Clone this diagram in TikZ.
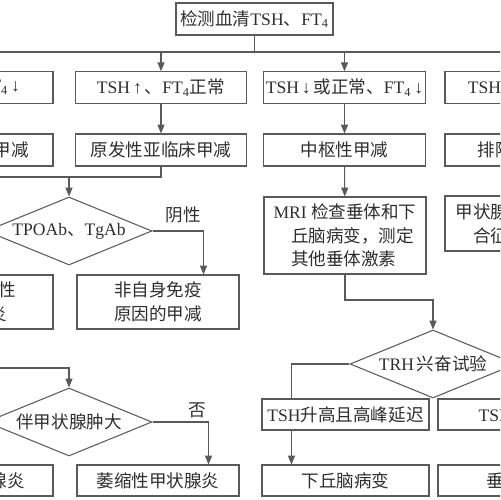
\documentclass[tikz,border=0pt]{standalone}
\usepackage{fontspec}
\setmainfont{Liberation Serif}
\newfontfamily\cjk{Noto Sans CJK SC}
\newcommand\zh[1]{{\cjk #1}}
\usetikzlibrary{shapes.geometric,arrows.meta}
\definecolor{ln}{HTML}{5A5A5A}
\definecolor{tx}{HTML}{2E2E2E}
\begin{document}
\begin{tikzpicture}[x=0.02cm,y=-0.02cm,
  font=\fontsize{10}{13.5}\selectfont, text=tx,
  box/.style={draw=ln, line width=0.6pt, rectangle, inner sep=0pt, align=center},
  rowbox/.style={box, minimum width=3.42cm, minimum height=0.63cm},
  colbox/.style={box, minimum width=3.24cm, minimum height=0.63cm},
  dia/.style={draw=ln, line width=0.6pt, diamond, aspect=2.44, inner sep=0pt,
              minimum width=3.32cm, minimum height=1.36cm},
  conn/.style={draw=ln, line width=0.6pt},
  arr/.style={conn, -{Triangle[length=5pt,width=4pt]}},
  lbl/.style={inner sep=0pt}]
\useasboundingbox (0,0) rectangle (500,500);
\clip (0,0) rectangle (500,500);

% top
\node[box, minimum width=3.14cm, minimum height=0.64cm] (top) at (254.5,19)
  {\zh{检测血清}TSH\zh{、}FT\textsubscript{4}};
\coordinate (busL) at (-60,52);
\coordinate (busR) at (560,52);

% row 1
\node[rowbox] (a1) at (-32.5,87.5) {TSH\,↑\,\zh{、}FT\textsubscript{4}\,↓};
\node[rowbox] (b1) at (161,87.5) {TSH\,↑\,\zh{、}FT\textsubscript{4}\zh{正常}};
\node[colbox] (c1) at (344.5,87.5) {TSH\,↓\,\zh{或正常、}FT\textsubscript{4}\,↓};
\node[rowbox] (d1) at (530.5,87.5) {TSH\zh{正常、}FT\textsubscript{4}\,↑};

% row 2
\node[rowbox, minimum height=0.64cm] (a2) at (-32.5,150) {\zh{原发性临床甲减}};
\node[rowbox, minimum height=0.64cm] (b2) at (161,150) {\zh{原发性亚临床甲减}};
\node[colbox, minimum height=0.64cm] (c2) at (344.5,150) {\zh{中枢性甲减}};
\node[rowbox, minimum height=0.64cm] (d2) at (530.5,150) {\zh{排除干扰因素}};

% left column
\node[dia] (dia1) at (69,231) {TPOAb\zh{、}TgAb};
\node[colbox, minimum height=1.08cm] (a3) at (-28,302) {\zh{自身免疫性}\\\zh{甲状腺炎}};
\node[colbox, minimum height=1.08cm] (nonai) at (158,302) {\zh{非自身免疫}\\\zh{原因的甲减}};
\node[dia] (dia2) at (69,422) {\zh{伴甲状腺肿大}};
\node[colbox, minimum height=0.62cm] (hashi) at (-28,480.5) {\zh{桥本甲状腺炎}};
\node[colbox, minimum height=0.62cm] (atro) at (158,480.5) {\zh{萎缩性甲状腺炎}};

% centre column
\node[colbox, minimum height=1.54cm, align=left] (mri) at (345,235.5)
  {MRI \zh{检查垂体和下}\\\hspace*{1em}\zh{丘脑病变，测定}\\\hspace*{1em}\zh{其他垂体激素}};
\node[colbox, minimum height=1.1cm, align=left] (d3) at (526,223.5)
  {\zh{甲状腺激素抵抗综}\\\hspace*{1em}\zh{合征}};
\node[dia] (dia3) at (433,364) {TRH\,\zh{兴奋试验}};
\node[box, minimum width=3.34cm, minimum height=0.62cm] (hl) at (345.5,414.5) {TSH\zh{升高且高峰延迟}};
\node[box, minimum width=3.34cm, minimum height=0.62cm] (nr) at (521.5,414.5) {TSH\zh{无反应}};
\node[box, minimum width=3.34cm, minimum height=0.62cm] (hyp) at (345.5,480.5) {\zh{下丘脑病变}};
\node[box, minimum width=3.34cm, minimum height=0.62cm] (pit) at (521.5,480.5) {\zh{垂体病变}};

% labels
\node[lbl] (neg) at (183,215) {\zh{阴性}};
\node[lbl] (no) at (197,410) {\zh{否}};

% connectors
\draw[conn] (top.south) -- (top.south |- busL);
\draw[conn] (busL) -- (busR);
\draw[arr] (a1.north |- busL) -- (a1.north);
\draw[arr] (b1.north |- busL) -- (b1.north);
\draw[arr] (c1.north |- busL) -- (c1.north);
\draw[arr] (d1.north |- busL) -- (d1.north);
\draw[arr] (a1) -- (a2);
\draw[arr] (b1) -- (b2);
\draw[arr] (c1) -- (c2);
\draw[arr] (d1) -- (d2);
\draw[arr] (d2) -- (d3);

\coordinate (j1) at (69,177);
\draw[conn] (a2.south) |- (j1) -| (b2.south);
\draw[arr] (j1) -- (dia1.north);
\draw[arr] (dia1.east) -| ([xshift=-0.72cm]nonai.north east);
\draw[arr] (dia1.west) -| (a3.north);

\coordinate (j2) at (69,368);
\draw[arr] (a3.south) |- (j2) -- (dia2.north);
\draw[arr] (dia2.east) -| ([xshift=-0.62cm]atro.north east);
\draw[arr] (dia2.west) -| (hashi.north);

\draw[arr] (c2) -- (mri);
\coordinate (j3) at (433,300);
\draw[arr] (mri.south) |- (j3) -- (dia3.north);
\draw[conn] (dia3.west) -| ([xshift=0.6cm]hl.north west);
\draw[conn] (dia3.east) -| ([xshift=-0.6cm]nr.north east);
\draw[arr] ([xshift=0.6cm]hl.south west) -- ([xshift=0.6cm]hyp.north west);
\draw[arr] ([xshift=-0.6cm]nr.south east) -- ([xshift=-0.6cm]pit.north east);
\end{tikzpicture}
\end{document}
